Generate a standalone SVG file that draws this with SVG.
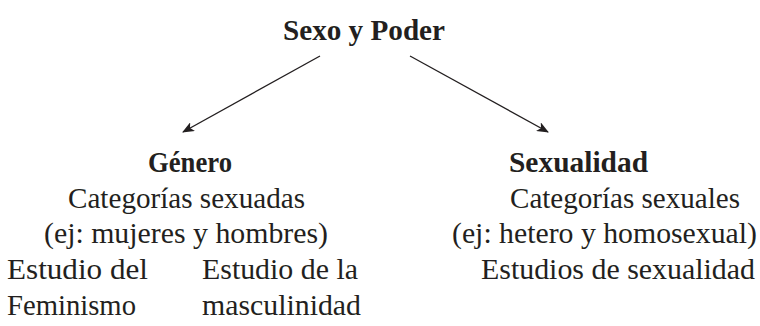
<svg xmlns="http://www.w3.org/2000/svg" width="760" height="326" viewBox="0 0 760 326">
<style>
text{font-family:"Liberation Serif","Times New Roman",serif;fill:#231f20;font-size:29px}
.b{font-weight:bold}
.edge{stroke:#231f20;stroke-width:1.3;fill:none;marker-end:url(#ah)}
</style>
<defs>
<marker id="ah" viewBox="0 0 12 10" refX="11" refY="5" markerWidth="12" markerHeight="10" markerUnits="userSpaceOnUse" orient="auto">
<path d="M0,0 L12,5 L0,10 L3,5 z" fill="#231f20"/>
</marker>
</defs>
<rect width="760" height="326" fill="#fff"/>
<g id="root"><text class="b" x="283" y="40" textLength="162" lengthAdjust="spacingAndGlyphs">Sexo y Poder</text></g>
<g id="connectors">
<line class="edge" x1="320" y1="56" x2="183" y2="132"/>
<line class="edge" x1="410" y1="56" x2="548" y2="132"/>
</g>
<g id="genero">
<text class="b" x="148" y="172" textLength="84" lengthAdjust="spacingAndGlyphs">Género</text>
<text x="68" y="208" textLength="237" lengthAdjust="spacingAndGlyphs">Categorías sexuadas</text>
<text x="44" y="243" textLength="284" lengthAdjust="spacingAndGlyphs">(ej: mujeres y hombres)</text>
<text x="7" y="279" textLength="141" lengthAdjust="spacingAndGlyphs">Estudio del</text>
<text x="7" y="315" textLength="129" lengthAdjust="spacingAndGlyphs">Feminismo</text>
<text x="202" y="279" textLength="156" lengthAdjust="spacingAndGlyphs">Estudio de la</text>
<text x="202" y="315" textLength="159" lengthAdjust="spacingAndGlyphs">masculinidad</text>
</g>
<g id="sexualidad">
<text class="b" x="509" y="172" textLength="139" lengthAdjust="spacingAndGlyphs">Sexualidad</text>
<text x="510" y="208" textLength="230" lengthAdjust="spacingAndGlyphs">Categorías sexuales</text>
<text x="452" y="243" textLength="305" lengthAdjust="spacingAndGlyphs">(ej: hetero y homosexual)</text>
<text x="481" y="279" textLength="274" lengthAdjust="spacingAndGlyphs">Estudios de sexualidad</text>
</g>
</svg>
